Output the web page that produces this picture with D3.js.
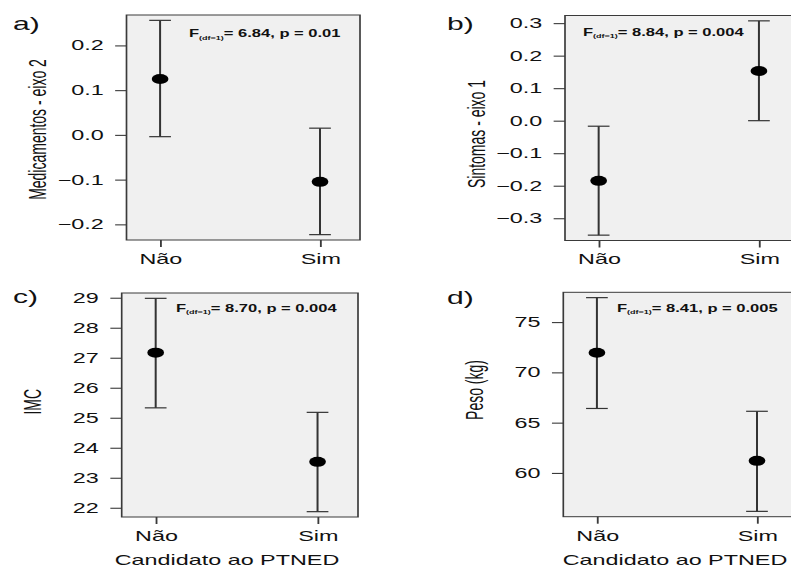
<!DOCTYPE html>
<html>
<head>
<meta charset="utf-8">
<script src="https://cdn.jsdelivr.net/npm/d3@7"></script>
<style>
  body { margin: 0; background: #fff; }
  svg { display: block; }
  text { font-family: "Liberation Sans", Arial, Helvetica, sans-serif; fill: #111; }
  .axis text { font-size: 14px; fill: #111; }
  .axis path { display: none; }
  .axis line { stroke: #3a3a3a; stroke-width: 1.1; }
</style>
</head>
<body>
<svg id="chart"></svg>
<script>
// groups on the x axis
const groups = ['Não', 'Sim'];

// a) medicamentos - eixo 2
const medMean = [0.125, -0.105];
const medLow = [-0.004, -0.223];
const medHigh = [0.256, 0.015];
const medTicks = [-0.2, -0.1, 0.0, 0.1, 0.2];

// b) sintomas - eixo 1
const sinMean = [-0.185, 0.153];
const sinLow = [-0.352, 0.0];
const sinHigh = [-0.017, 0.307];
const sinTicks = [-0.3, -0.2, -0.1, 0.0, 0.1, 0.2, 0.3];

// c) IMC
const imcMean = [27.17, 23.53];
const imcLow = [25.33, 21.87];
const imcHigh = [28.98, 25.18];
const imcTicks = [22, 23, 24, 25, 26, 27, 28, 29];

// d) peso
const pesoMean = [71.95, 61.2];
const pesoLow = [66.41, 56.18];
const pesoHigh = [77.43, 66.13];
const pesoTicks = [60, 65, 70, 75];

// anova results + labels
const fValues = ['6.84', '8.84', '8.70', '8.41'];
const pValues = ['0.01', '0.004', '0.004', '0.005'];
const yTitles = ['Medicamentos - eixo 2', 'Sintomas - eixo 1', 'IMC', 'Peso (kg)'];
const panelLetters = ['a)', 'b)', 'c)', 'd)'];
const xTitle = 'Candidato ao PTNED';

// the original figure is stretched sideways, so it is drawn in a squeezed space
const SX = 1.67;

const svg = d3.select('#chart').attr('width', 791).attr('height', 568);
const stretched = svg.append('g').attr('transform', `scale(${SX},1)`);

class ErrorPanel {

    constructor(_config, _data) {
        this.config = {
            box: _config.box,              // left, top, right, bottom in page px
            letterPos: _config.letterPos,
            notePos: _config.notePos,
            yTitleMid: _config.yTitleMid,
            xTitleMid: _config.xTitleMid || null,
            tickFormat: _config.tickFormat
        }
        this.data = _data;
        this.initVis();
    }

    initVis() {
        let vis = this;
        const [l, t, r, b] = vis.config.box;

        vis.width = (r - l) / SX;
        vis.height = b - t;

        vis.chart = stretched.append('g')
            .attr('transform', `translate(${l / SX},${t})`);

        // one row per group
        vis.rows = groups.map((g, i) => ({
            idx: i + 1,
            mean: vis.data.mean[i],
            low: vis.data.low[i],
            high: vis.data.high[i]
        }));

        const lo = d3.min(vis.rows, d => d.low);
        const hi = d3.max(vis.rows, d => d.high);
        const pad = (hi - lo) * 0.025;

        // scales
        vis.xScale = d3.scaleLinear()
            .domain([0.79, 2.25])
            .range([0, vis.width]);

        vis.yScale = d3.scaleLinear()
            .domain([lo - pad, hi + pad])
            .range([vis.height, 0]);

        // panel background
        vis.chart.append('rect')
            .attr('width', vis.width)
            .attr('height', vis.height)
            .attr('fill', '#f0f0f0');

        // axes
        vis.yAxis = d3.axisLeft(vis.yScale)
            .tickValues(vis.data.ticks)
            .tickFormat(d3.format(vis.config.tickFormat))
            .tickSize(6.8)
            .tickPadding(6.9);

        vis.xAxis = d3.axisBottom(vis.xScale)
            .tickValues([1, 2])
            .tickFormat(d => groups[d - 1])
            .tickSize(7)
            .tickPadding(7);

        vis.chart.append('g')
            .attr('class', 'axis y-axis')
            .call(vis.yAxis);

        vis.chart.append('g')
            .attr('class', 'axis x-axis')
            .attr('transform', `translate(0,${vis.height})`)
            .call(vis.xAxis);

        // error bars
        const bars = vis.chart.selectAll('.ebar')
            .data(vis.rows)
            .enter()
            .append('g')
                .attr('class', 'ebar')
                .attr('stroke', '#333')
                .attr('stroke-width', 1.2);

        bars.append('line')
            .attr('x1', d => vis.xScale(d.idx))
            .attr('x2', d => vis.xScale(d.idx))
            .attr('y1', d => vis.yScale(d.low))
            .attr('y2', d => vis.yScale(d.high));

        bars.append('line')
            .attr('x1', d => vis.xScale(d.idx) - 6.5)
            .attr('x2', d => vis.xScale(d.idx) + 6.5)
            .attr('y1', d => vis.yScale(d.high))
            .attr('y2', d => vis.yScale(d.high));

        bars.append('line')
            .attr('x1', d => vis.xScale(d.idx) - 6.5)
            .attr('x2', d => vis.xScale(d.idx) + 6.5)
            .attr('y1', d => vis.yScale(d.low))
            .attr('y2', d => vis.yScale(d.low));

        // means
        vis.chart.selectAll('.mean')
            .data(vis.rows)
            .enter()
            .append('circle')
                .attr('class', 'mean')
                .attr('cx', d => vis.xScale(d.idx))
                .attr('cy', d => vis.yScale(d.mean))
                .attr('r', 5)
                .attr('fill', '#000');

        // frame
        vis.chart.append('rect')
            .attr('width', vis.width)
            .attr('height', vis.height)
            .attr('fill', 'none')
            .attr('stroke', '#3a3a3a')
            .attr('stroke-width', 1);

        // F annotation
        const note = stretched.append('g')
            .attr('transform', `translate(${vis.config.notePos[0] / SX},${vis.config.notePos[1]}) scale(0.9,1)`)
            .append('text')
            .attr('font-size', 11)
            .attr('font-weight', 'bold');
        note.append('tspan').text('F');
        note.append('tspan').attr('font-size', 6).attr('dy', 2.8).text('(df=1)');
        note.append('tspan').attr('dy', -2.8).text(`= ${vis.data.f}, p = ${vis.data.p}`);

        // panel letter
        stretched.append('text')
            .attr('x', vis.config.letterPos[0] / SX)
            .attr('y', vis.config.letterPos[1])
            .attr('font-size', 18)
            .text(vis.data.letter);

        // y title
        stretched.append('text')
            .attr('transform', `translate(${(l - 80.5) / SX},${vis.config.yTitleMid}) rotate(-90)`)
            .attr('text-anchor', 'middle')
            .attr('font-size', 14)
            .text(vis.data.yTitle);

        // x title only on the bottom row
        if (vis.config.xTitleMid !== null) {
            stretched.append('text')
                .attr('x', vis.config.xTitleMid / SX)
                .attr('y', 565)
                .attr('text-anchor', 'middle')
                .attr('font-size', 14)
                .text(xTitle);
        }
    }
}

new ErrorPanel(
    { box: [126.5, 15, 360, 240], letterPos: [13, 30.5], notePos: [189, 37], yTitleMid: 129.5, tickFormat: '.1f' },
    { mean: medMean, low: medLow, high: medHigh, ticks: medTicks, f: fValues[0], p: pValues[0], yTitle: yTitles[0], letter: panelLetters[0] }
);
new ErrorPanel(
    { box: [565, 15.5, 799, 240.5], letterPos: [447, 30], notePos: [583, 35.5], yTitleMid: 134, tickFormat: '.1f' },
    { mean: sinMean, low: sinLow, high: sinHigh, ticks: sinTicks, f: fValues[1], p: pValues[1], yTitle: yTitles[1], letter: panelLetters[1] }
);
new ErrorPanel(
    { box: [121.7, 293, 358, 517], letterPos: [13, 303.5], notePos: [176, 311.5], yTitleMid: 401.7, xTitleMid: 227, tickFormat: 'd' },
    { mean: imcMean, low: imcLow, high: imcHigh, ticks: imcTicks, f: fValues[2], p: pValues[2], yTitle: yTitles[2], letter: panelLetters[2] }
);
new ErrorPanel(
    { box: [563.3, 292.3, 797, 516.7], letterPos: [447, 304.5], notePos: [617, 311.5], yTitleMid: 390, xTitleMid: 675, tickFormat: 'd' },
    { mean: pesoMean, low: pesoLow, high: pesoHigh, ticks: pesoTicks, f: fValues[3], p: pValues[3], yTitle: yTitles[3], letter: panelLetters[3] }
);
</script>
</body>
</html>
